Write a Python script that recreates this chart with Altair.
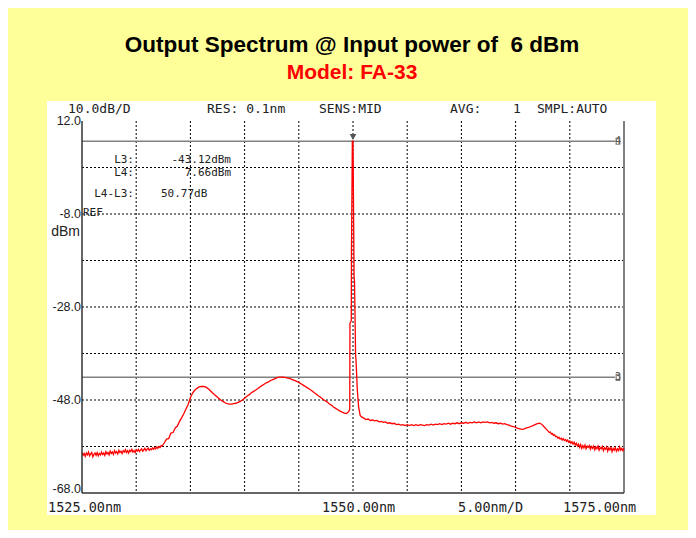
import altair as alt
import pandas as pd
import numpy as np

# ---------------- data ----------------
# Trace segments: OSA sampling grid (start nm, step nm) and readings in dBm
left_start, left_step = 1525.0, 0.1
left_power = [
    -59.3, -59.9, -59.5, -60.1, -59.4, -59.8, -59.2, -60.0, -59.6, -59.3,
    -60.2, -59.7, -59.4, -59.9, -59.3, -60.0, -59.5, -59.8, -59.2, -59.7,
    -59.4, -59.9, -59.1, -59.6, -59.3, -59.8, -59.0, -59.5, -59.2, -59.7,
    -58.9, -59.4, -59.1, -59.6, -58.8, -59.3, -59.0, -59.5, -58.9, -59.2,
    -58.7, -59.3, -58.9, -59.4, -58.8, -59.1, -58.6, -59.2, -58.9, -59.3,
    -58.7, -59.0, -58.6, -59.1, -58.8, -58.5, -59.0, -58.7, -58.4, -58.9,
    -58.6, -58.3, -58.8, -58.5, -58.7, -58.3, -58.6, -58.2, -58.5, -58.1,
    -58.4, -58.0, -58.2, -57.8, -57.9,
]
hump_start, hump_step = 1532.6, 0.2
hump_power = [
    -57.2, -56.4, -56.3, -55.1, -55.0, -54.0, -53.6, -52.6, -51.8, -50.9,
    -49.9, -48.9, -47.5, -46.5, -45.9, -45.5, -45.2, -45.1, -45.1, -45.2,
    -45.5, -45.9, -46.4, -46.8, -47.2, -47.6, -48.0, -48.3, -48.6, -48.8,
    -48.9, -48.9, -48.8, -48.7, -48.5, -48.3, -48.0, -47.6, -47.2, -46.9,
    -46.5, -46.2, -45.9, -45.6, -45.2, -44.9, -44.6, -44.3, -44.1, -43.8,
    -43.6, -43.4, -43.2, -43.1, -43.1, -43.1, -43.2, -43.3, -43.4, -43.6,
    -43.8, -44.0, -44.2, -44.5, -44.8, -45.1, -45.4, -45.7, -46.0, -46.4,
    -46.7, -47.1, -47.4, -47.8, -48.1, -48.4, -48.8, -49.1, -49.5, -49.8,
    -50.1, -50.4, -50.6, -50.8, -50.9, -50.5,
]
spike_nm = [1549.70, 1549.72, 1549.84, 1549.86, 1549.94, 1550.00, 1550.10,
            1550.14, 1550.24, 1550.28, 1550.40, 1550.52, 1550.66, 1550.82]
spike_power = [-50.0, -31.5, -31.0, -15.7, 7.66, 7.66, -21.5,
               -22.5, -38.3, -39.5, -45.9, -49.5, -51.3, -51.7]
flat_start, flat_step = 1551.0, 0.2
flat_power = [
    -51.9, -52.2, -52.1, -52.4, -52.3, -52.5, -52.4, -52.7, -52.6, -52.8,
    -52.7, -53.0, -52.9, -53.1, -53.0, -53.3, -53.2, -53.4, -53.3, -53.5,
    -53.3, -53.5, -53.3, -53.5, -53.3, -53.5, -53.3, -53.4, -53.5, -53.3,
    -53.4, -53.2, -53.4, -53.2, -53.3, -53.1, -53.3, -53.1, -53.2, -53.0,
    -53.2, -53.0, -53.1, -52.9, -53.1, -52.9, -53.0, -52.8, -53.0, -52.8,
    -52.9, -52.7, -52.9, -52.7, -52.9, -52.7, -52.8, -52.7, -52.9, -52.8,
    -53.0, -52.9, -53.1, -53.0, -53.2, -53.1, -53.3, -53.4, -53.6, -53.7,
    -53.9, -54.1, -54.2, -54.3, -54.2, -54.0, -53.9, -53.7, -53.5, -53.3,
    -53.1, -53.0, -53.2, -53.7, -54.2,
]
tail_start, tail_step = 1568.0, 0.1
tail_power = [
    -54.7, -55.0, -54.9, -55.3, -55.2, -55.6, -55.5, -55.9, -55.8, -56.2,
    -56.0, -56.4, -56.2, -56.6, -56.3, -56.7, -56.5, -56.9, -56.6, -57.1,
    -56.8, -57.3, -57.0, -57.5, -57.1, -57.7, -57.3, -57.9, -57.5, -58.2,
    -57.6, -58.4, -57.8, -58.3, -57.7, -58.5, -57.9, -58.2, -57.8, -58.6,
    -58.0, -58.4, -57.9, -58.7, -58.1, -58.5, -57.9, -58.8, -58.2, -58.5,
    -58.0, -58.9, -58.3, -58.6, -58.1, -59.0, -58.3, -58.7, -58.2, -59.1,
    -58.4, -58.8, -58.2, -59.0, -58.5, -58.9, -58.1, -58.8, -58.4, -58.9,
    -58.3,
]

# Markers (line markers L3 / L4) and peak marker
marker_names = ["3", "4"]
marker_levels = [-43.12, 7.66]
peak_nm = [1550.0]

# Grid and tick values
grid_nm = [1530, 1535, 1540, 1545, 1550, 1555, 1560, 1565, 1570]
grid_db = [2, -8, -18, -28, -38, -48, -58]
y_tick_values = [12, -8, -28, -48]
y_bottom_tick = [-68]
x_domain = [1525, 1575]
y_domain = [-68, 12]

# ---------------- build tables ----------------
def seg(start, step, values):
    nm = np.round(start + step * np.arange(len(values)), 3)
    return pd.DataFrame({"nm": nm, "dbm": values})

trace = pd.concat([
    seg(left_start, left_step, left_power),
    seg(hump_start, hump_step, hump_power),
    pd.DataFrame({"nm": spike_nm, "dbm": spike_power}),
    seg(flat_start, flat_step, flat_power),
    seg(tail_start, tail_step, tail_power),
], ignore_index=True)
trace["order"] = np.arange(len(trace))

markers = pd.DataFrame({"name": marker_names, "level": marker_levels})


def tick_table(vals):
    return pd.DataFrame({"v": vals, "lab": [f"{v:.1f}" for v in vals]})


X = alt.Scale(domain=x_domain, nice=False, zero=False)
Y = alt.Scale(domain=y_domain, nice=False, zero=False)

MONO = "DejaVu Sans Mono"
INK = "#222222"
GRAY = "#808080"
AXIS = "#333333"

one = pd.DataFrame({"k": [0]})

panel = alt.Chart(one).mark_rect(color="white").encode(
    x=alt.value(-35), x2=alt.value(574), y=alt.value(-20), y2=alt.value(394)
)

vgrid = alt.Chart(pd.DataFrame({"nm": grid_nm})).mark_rule(
    color="black", strokeDash=[2, 2], strokeWidth=1
).encode(x=alt.X("nm:Q", scale=X, axis=None))

hgrid = alt.Chart(pd.DataFrame({"db": grid_db})).mark_rule(
    color="black", strokeDash=[2, 2], strokeWidth=1
).encode(y=alt.Y("db:Q", scale=Y, axis=None))

right_frame = alt.Chart(pd.DataFrame({"nm": [x_domain[1]]})).mark_rule(
    color=GRAY, strokeWidth=2
).encode(x=alt.X("nm:Q", scale=X, axis=None))

left_frame = alt.Chart(pd.DataFrame({"nm": [x_domain[0]]})).mark_rule(
    color=AXIS, strokeWidth=1.5
).encode(x=alt.X("nm:Q", scale=X, axis=None))

bottom_frame = alt.Chart(pd.DataFrame({"db": [y_domain[0]]})).mark_rule(
    color=AXIS, strokeWidth=1.5
).encode(y=alt.Y("db:Q", scale=Y, axis=None))

ylabels = alt.Chart(tick_table(y_tick_values)).mark_text(
    font="Liberation Sans", fontSize=12.5, color=INK, align="right",
    baseline="middle"
).encode(y=alt.Y("v:Q", scale=Y, axis=None), x=alt.value(-1), text="lab:N")

ylabel_bottom = alt.Chart(tick_table(y_bottom_tick)).mark_text(
    font="Liberation Sans", fontSize=12.5, color=INK, align="right",
    baseline="middle", dy=-4
).encode(y=alt.Y("v:Q", scale=Y, axis=None), x=alt.value(-1), text="lab:N")

marker_lines = alt.Chart(markers).mark_rule(color=GRAY, strokeWidth=1.5).encode(
    y=alt.Y("level:Q", scale=Y, axis=None), x=alt.value(0), x2=alt.value(533)
)

marker_boxes = alt.Chart(markers).mark_point(
    shape="M-0.3,-0.5L0.3,-0.5L0.3,0.5L-0.3,0.5Z", size=150,
    filled=True, fill="white", stroke=GRAY, strokeWidth=1.2, opacity=1
).encode(y=alt.Y("level:Q", scale=Y, axis=None), x=alt.value(536))

marker_text = alt.Chart(markers).mark_text(
    font=MONO, fontSize=10, color="#555555", baseline="middle", align="center"
).encode(y=alt.Y("level:Q", scale=Y, axis=None), x=alt.value(536),
         text="name:N")

line = alt.Chart(trace).mark_line(color="#ff0000", strokeWidth=1.3).encode(
    x=alt.X("nm:Q", scale=X, axis=None),
    y=alt.Y("dbm:Q", scale=Y, axis=None),
    order="order:Q",
)

peak = alt.Chart(pd.DataFrame({"nm": peak_nm})).mark_point(
    shape="triangle-down", filled=True, color="#555555", size=45, opacity=1
).encode(x=alt.X("nm:Q", scale=X, axis=None), y=alt.value(16))


def label(txt, x, y, size=13.5, align="left", color=INK, font=MONO,
          weight="normal"):
    return alt.Chart(one).mark_text(
        text=txt, font=font, fontSize=size, align=align, baseline="middle",
        color=color, fontWeight=weight
    ).encode(x=alt.value(x), y=alt.value(y))


NB = "\u00a0"
texts = [
    label("Output Spectrum @ Input power of" + NB + NB + "6 dBm", 270, -76,
          size=22.5, align="center", color="black", font="Liberation Sans",
          weight="bold"),
    label("Model: FA-33", 270, -48, size=21, align="center", color="#ff0000",
          font="Liberation Sans", weight="bold"),
    label("10.0dB/D", -14, -12.5, size=13),
    label("RES: 0.1nm", 125, -12.5, size=13),
    label("SENS:MID", 237, -12.5, size=13),
    label("AVG:", 368, -12.5, size=13),
    label("1", 431, -12.5, size=13),
    label("SMPL:AUTO", 455, -12.5, size=13),
    label("1525.00nm", -34, 387),
    label("1550.00nm", 240, 387),
    label("5.00nm/D", 376, 387),
    label("1575.00nm", 481, 387),
    label("dBm", -2, 111, size=14, align="right", font="Liberation Sans"),
    label("REF", 1, 92, size=11),
    label("L3:", 52, 39, size=11, align="right"),
    label("-43.12dBm", 149, 39, size=11, align="right"),
    label("L4:", 52, 52, size=11, align="right"),
    label("7.66dBm", 149, 52, size=11, align="right"),
    label("L4-L3:", 52, 73, size=11, align="right"),
    label("50.77dB", 79, 73, size=11),
]

chart = alt.layer(
    panel, vgrid, hgrid, right_frame, marker_lines, line, left_frame,
    bottom_frame, ylabels, ylabel_bottom, marker_boxes, marker_text, peak,
    *texts
).properties(
    width=542, height=372,
    autosize=alt.AutoSizeParams(type="none"),
    padding={"left": 74, "top": 113, "right": 64, "bottom": 37},
    background="#FFFF99",
).configure_view(stroke=None)

chart.save("out.html", embed_options={"renderer": "svg", "actions": False})
